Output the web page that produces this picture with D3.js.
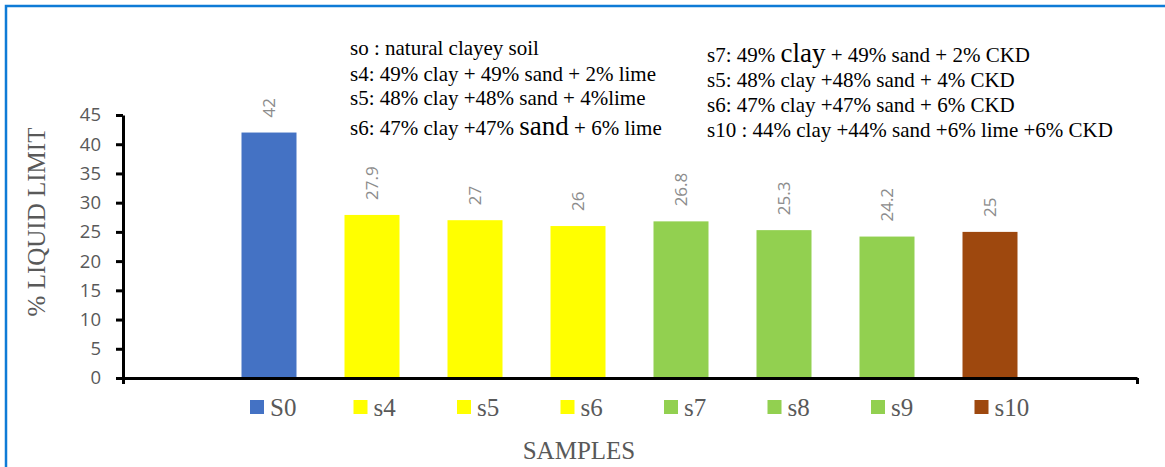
<!DOCTYPE html>
<html>
<head>
<meta charset="utf-8">
<script src="https://cdn.jsdelivr.net/npm/d3@7"></script>
<style>
  html, body { margin: 0; padding: 0; background: #fff; }
  svg { display: block; }
</style>
</head>
<body>
<div id="chart"></div>
<script>
/* global d3 */

const samples = ['S0', 's4', 's5', 's6', 's7', 's8', 's9', 's10']
const liquidLimit = [42, 27.9, 27, 26, 26.8, 25.3, 24.2, 25]
const barColors = ['#4472c4', '#ffff00', '#ffff00', '#ffff00', '#92d050', '#92d050', '#92d050', '#9e480e']
const yTicks = [0, 5, 10, 15, 20, 25, 30, 35, 40, 45]

// notes printed on the plot area, [prefix, big word, suffix]
const notesLeft = [
  ['so : natural clayey soil', '', ''],
  ['s4: 49% clay + 49% sand + 2% lime', '', ''],
  ['s5: 48% clay +48% sand + 4%lime', '', ''],
  ['s6: 47% clay +47% ', 'sand', ' + 6% lime']
]
const notesRight = [
  ['s7: 49% ', 'clay', ' + 49% sand + 2% CKD'],
  ['s5: 48% clay +48% sand + 4% CKD', '', ''],
  ['s6: 47% clay +47% sand + 6% CKD', '', ''],
  ['s10 : 44% clay +44% sand +6% lime +6% CKD', '', '']
]

const W = 1165
const H = 467
const axisLeftX = 123
const axisRightX = 1137
const y0 = 378
const y45 = 115

const svg = d3.select('#chart')
  .append('svg')
  .attr('width', W)
  .attr('height', H)

// blue frame
svg.append('rect')
  .attr('x', 6)
  .attr('y', 6)
  .attr('width', W + 20)
  .attr('height', H + 20)
  .attr('fill', 'none')
  .attr('stroke', '#0f7bd6')
  .attr('stroke-width', 2.5)

const y = d3.scaleLinear().domain([0, 45]).range([y0, y45])

const x = d3.scaleBand()
  .domain(samples)
  .range([217.5, 1041.5])
  .paddingInner(48 / 103)
  .paddingOuter(24 / 103)

// bars
svg.append('g')
  .selectAll('rect')
  .data(samples)
  .join('rect')
  .attr('x', (d) => x(d))
  .attr('y', (d, i) => y(liquidLimit[i]))
  .attr('width', x.bandwidth())
  .attr('height', (d, i) => y(0) - y(liquidLimit[i]))
  .attr('fill', (d, i) => barColors[i])

// value labels, rotated
svg.append('g')
  .selectAll('text')
  .data(samples)
  .join('text')
  .attr('transform', (d, i) => `translate(${x(d) + x.bandwidth() / 2 + 6},${y(liquidLimit[i]) - 15}) rotate(-90)`)
  .attr('font-family', '"Open Sans", sans-serif')
  .attr('font-size', 17)
  .attr('fill', '#8c8c8c')
  .text((d, i) => liquidLimit[i])

// y axis
const yAxis = svg.append('g')
  .attr('transform', `translate(${axisLeftX},0)`)
  .call(d3.axisLeft(y).tickValues(yTicks).tickSize(7).tickSizeOuter(0).tickPadding(15))
yAxis.select('.domain').attr('stroke', '#000').attr('stroke-width', 3)
yAxis.selectAll('.tick line').attr('stroke', '#000').attr('stroke-width', 3)
yAxis.selectAll('.tick text')
  .attr('font-family', '"Open Sans", sans-serif')
  .attr('font-size', 18.5)
  .attr('fill', '#595959')

// x axis: one category, ticks at both ends
const xEdge = d3.scaleLinear().domain([0, 1]).range([axisLeftX, axisRightX])
const xAxis = svg.append('g')
  .attr('transform', `translate(0,${y0})`)
  .call(d3.axisBottom(xEdge).tickValues([0, 1]).tickSize(6).tickSizeOuter(0).tickFormat(''))
xAxis.select('.domain').attr('stroke', '#000').attr('stroke-width', 3)
xAxis.selectAll('.tick line').attr('stroke', '#000').attr('stroke-width', 3)

// axis titles
svg.append('text')
  .attr('transform', 'translate(45,222) rotate(-90)')
  .attr('text-anchor', 'middle')
  .attr('font-family', '"Liberation Serif", "Times New Roman", serif')
  .attr('font-size', 25)
  .attr('fill', '#595959')
  .text('% LIQUID LIMIT')

svg.append('text')
  .attr('x', 579)
  .attr('y', 459)
  .attr('text-anchor', 'middle')
  .attr('font-family', '"Liberation Serif", "Times New Roman", serif')
  .attr('font-size', 25)
  .attr('fill', '#595959')
  .text('SAMPLES')

// legend
const legendStep = 103.5
const legend = svg.append('g')
  .selectAll('g')
  .data(samples)
  .join('g')
  .attr('transform', (d, i) => `translate(${250 + i * legendStep},400)`)
legend.append('rect')
  .attr('width', 14)
  .attr('height', 14)
  .attr('fill', (d, i) => barColors[i])
legend.append('text')
  .attr('x', 20)
  .attr('y', 16)
  .attr('font-family', '"Liberation Serif", "Times New Roman", serif')
  .attr('font-size', 25)
  .attr('fill', '#595959')
  .text((d) => d)

// annotation blocks
function drawNotes (lines, x0, baselines) {
  const t = svg.append('g')
    .selectAll('text')
    .data(lines)
    .join('text')
    .attr('x', x0)
    .attr('y', (d, i) => baselines[i])
    .attr('font-family', '"Liberation Serif", "Times New Roman", serif')
    .attr('font-size', 21)
    .attr('fill', '#000')
  t.append('tspan').text((d) => d[0])
  t.append('tspan').attr('font-size', 27).text((d) => d[1])
  t.append('tspan').text((d) => d[2])
}
drawNotes(notesLeft, 350, [55, 81, 105, 135])
drawNotes(notesRight, 707, [62, 87, 112, 137])
</script>
</body>
</html>
